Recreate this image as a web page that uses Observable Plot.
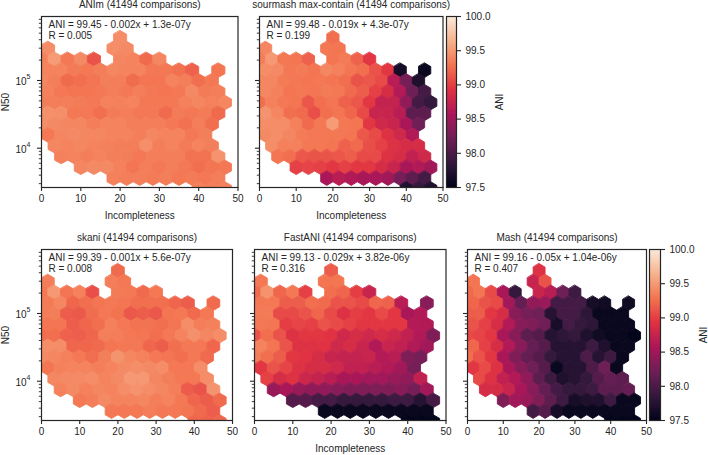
<!DOCTYPE html>
<html><head><meta charset="utf-8">
<script src="https://cdn.jsdelivr.net/npm/d3@7"></script>
<script src="https://cdn.jsdelivr.net/npm/@observablehq/plot@0.6"></script>
<style>
html,body{margin:0;padding:0;background:#fff}
#chart{position:relative;width:708px;height:455px;overflow:hidden}
#chart svg{position:absolute}
</style></head><body><div id="chart"></div>
<script>
// Which hexagon columns are occupied in each row of the hexbin grid (top row first).
const rowCols = [
  [6],[0,5,6],[0,1,2,3,4,6,7,8,9],[0,1,2,3,4,5,6,7,8,9,10,11,13],
  d3.range(0,14),d3.range(0,14),d3.range(0,15),d3.range(0,14),d3.range(0,14),
  d3.range(0,13),d3.range(1,14),d3.range(1,14),d3.range(3,15),d3.range(5,14),d3.range(12,15)
];
const aniANIm = [
  [99.42],
  [99.42,99.42,99.40],
  [99.35,99.50,99.30,99.40,99.10,99.38,99.36,99.22,99.38],
  [99.36,99.36,99.32,99.30,99.33,99.38,99.36,99.36,99.30,99.30,99.26,99.18,99.28],
  [99.38,99.34,99.22,99.25,99.28,99.34,99.33,99.23,99.28,99.28,99.36,99.33,99.25,99.30],
  [99.35,99.30,99.28,99.28,99.30,99.33,99.30,99.33,99.30,99.28,99.30,99.40,99.32,99.33],
  [99.34,99.33,99.33,99.32,99.30,99.35,99.35,99.36,99.30,99.30,99.30,99.35,99.38,99.35,99.38],
  [99.44,99.43,99.30,99.30,99.25,99.32,99.33,99.30,99.30,99.22,99.32,99.30,99.32,99.22],
  [99.42,99.40,99.38,99.38,99.33,99.36,99.36,99.33,99.33,99.33,99.30,99.26,99.33,99.25],
  [99.30,99.38,99.40,99.38,99.38,99.36,99.36,99.33,99.38,99.36,99.36,99.30,99.34],
  [99.38,99.36,99.38,99.36,99.35,99.33,99.33,99.43,99.33,99.36,99.32,99.36,99.34],
  [99.35,99.36,99.33,99.36,99.34,99.34,99.30,99.33,99.33,99.33,99.27,99.27,99.45],
  [99.38,99.40,99.40,99.35,99.28,99.33,99.30,99.33,99.30,99.25,99.28,99.30],
  [99.35,99.33,99.34,99.32,99.34,99.30,99.32,99.30,99.33],
  [99.35,99.33,99.35]
];
const aniSourmash = [
  [99.25],
  [99.38,99.30,99.28],
  [99.33,99.48,99.30,99.28,99.18,99.28,99.32,99.18,98.95],
  [99.42,99.40,99.30,99.32,99.28,99.38,99.35,99.28,99.25,99.10,98.95,97.65,97.55],
  [99.38,99.38,99.32,99.30,99.28,99.30,99.28,99.25,99.10,99.12,99.05,98.65,98.25,97.70],
  [99.38,99.35,99.28,99.30,99.28,99.32,99.30,99.22,99.15,99.00,98.85,98.60,98.20,97.95],
  [99.25,99.35,99.30,99.28,99.12,99.25,99.28,99.18,99.12,98.95,98.72,98.72,98.40,97.95,97.85],
  [99.45,99.38,99.25,99.22,99.08,99.25,99.28,99.20,99.05,98.75,98.75,98.65,98.10,98.10],
  [99.42,99.42,99.42,99.35,99.22,99.30,99.50,99.30,99.28,98.95,98.80,98.75,98.55,98.20],
  [99.40,99.42,99.38,99.32,99.30,99.30,99.30,99.28,99.12,99.05,98.90,98.80,98.60],
  [99.42,99.35,99.35,99.30,99.30,99.28,99.18,99.22,99.08,99.00,98.90,98.85,98.85],
  [99.28,99.25,99.12,99.10,99.10,99.12,99.15,99.05,99.05,98.90,98.85,98.70,98.80],
  [99.00,99.02,99.00,98.95,99.00,98.95,98.95,98.85,98.75,98.55,98.60,98.50],
  [98.55,98.65,98.60,98.55,98.55,98.50,98.25,98.10,97.95],
  [97.70,97.85,97.70]
];
const aniSkani = [
  [99.22],
  [99.33,99.33,99.30],
  [99.30,99.48,99.28,99.35,99.08,99.32,99.30,99.22,99.30],
  [99.32,99.38,99.20,99.25,99.28,99.30,99.28,99.25,99.25,99.25,99.20,99.15,99.22],
  [99.32,99.34,99.15,99.13,99.24,99.30,99.27,99.12,99.15,99.12,99.28,99.30,99.22,99.30],
  [99.28,99.28,99.15,99.20,99.25,99.35,99.30,99.27,99.27,99.25,99.28,99.42,99.33,99.35],
  [99.24,99.25,99.18,99.16,99.20,99.34,99.33,99.30,99.28,99.25,99.30,99.36,99.44,99.38,99.42],
  [99.42,99.42,99.20,99.20,99.22,99.28,99.30,99.30,99.20,99.15,99.25,99.30,99.30,99.20],
  [99.40,99.38,99.35,99.30,99.24,99.34,99.46,99.38,99.35,99.30,99.28,99.25,99.30,99.22],
  [99.28,99.35,99.36,99.36,99.33,99.36,99.40,99.42,99.40,99.42,99.30,99.30,99.42],
  [99.38,99.40,99.40,99.42,99.36,99.40,99.48,99.48,99.38,99.34,99.30,99.30,99.42],
  [99.35,99.40,99.35,99.38,99.36,99.42,99.45,99.42,99.38,99.33,99.14,99.10,99.46],
  [99.30,99.33,99.40,99.36,99.36,99.38,99.33,99.36,99.30,99.20,99.15,99.22],
  [99.30,99.30,99.30,99.33,99.30,99.30,99.28,99.22,99.15],
  [99.20,99.18,99.20]
];
const aniFastANI = [
  [99.15],
  [99.30,99.28,99.28],
  [99.22,99.45,99.20,99.30,99.00,99.25,99.20,98.98,98.75],
  [99.30,99.30,99.15,99.15,99.25,99.22,99.10,99.10,99.05,99.20,99.18,98.65,98.35],
  [99.32,99.32,99.05,99.05,99.10,99.20,99.05,98.90,98.98,98.95,99.05,98.95,98.55,98.60],
  [99.30,99.28,98.98,99.02,99.00,99.10,99.05,99.00,98.95,98.95,98.95,98.95,98.62,98.60],
  [99.10,99.25,99.10,98.90,98.95,98.95,98.92,98.80,98.85,98.80,98.85,98.80,98.70,98.60,98.30],
  [99.36,99.28,99.10,98.90,98.90,98.92,98.80,98.85,98.75,98.60,98.75,98.70,98.60,98.50],
  [99.34,99.25,99.15,98.95,98.92,98.85,98.75,98.72,98.72,98.75,98.62,98.65,98.30,98.25],
  [98.95,99.10,99.02,98.90,98.85,98.85,98.80,98.70,98.70,98.65,98.60,98.50,98.25],
  [99.00,98.85,98.90,98.78,98.72,98.65,98.55,98.55,98.50,98.50,98.45,98.40,98.70],
  [98.45,98.55,98.45,98.40,98.40,98.35,98.30,98.30,98.30,98.30,98.35,98.25,98.50],
  [98.05,98.05,97.95,97.95,97.85,97.85,97.85,97.85,97.90,97.90,97.75,97.95],
  [97.55,97.55,97.55,97.55,97.55,97.55,97.55,97.55,97.55],
  [97.50,97.50,97.50]
];
const aniMash = [
  [98.90],
  [99.28,98.75,99.10],
  [99.22,99.28,99.05,98.55,97.85,98.75,98.65,98.20,97.90],
  [99.20,99.10,99.05,98.50,98.15,98.40,98.45,97.95,97.95,97.95,97.65,97.60,97.60],
  [99.15,99.15,98.95,98.85,98.35,98.25,98.20,97.75,97.95,97.95,97.80,97.55,97.55,97.55],
  [99.10,99.00,98.85,98.60,98.35,98.30,98.20,97.65,97.95,97.85,97.80,97.55,97.55,97.55],
  [99.05,99.02,98.95,98.55,98.35,98.10,98.05,97.75,97.80,97.85,97.70,97.60,97.55,97.55,97.50],
  [99.20,99.00,98.85,98.60,98.35,98.15,98.05,97.75,97.75,97.75,97.90,97.70,97.55,97.55],
  [99.25,99.10,98.95,98.55,98.30,98.15,98.05,97.85,97.75,97.75,98.00,97.75,97.90,97.55],
  [98.95,99.05,98.90,98.55,98.35,98.20,98.05,97.55,97.75,97.75,98.00,98.20,97.55],
  [99.05,98.90,98.70,98.60,98.40,98.10,97.90,97.70,97.75,97.85,98.05,98.15,98.10],
  [98.85,98.85,98.75,98.55,98.35,98.15,97.95,97.85,97.85,97.90,98.10,98.10,98.15],
  [98.30,98.50,98.45,98.30,98.10,97.90,97.65,97.70,97.70,97.90,97.55,97.55],
  [97.95,98.05,97.65,97.55,97.55,97.55,97.55,97.55,97.55],
  [97.50,97.50,97.50]
];
const titles = ["ANIm (41494 comparisons)","sourmash max-contain (41494 comparisons)","skani (41494 comparisons)","FastANI (41494 comparisons)","Mash (41494 comparisons)"];
const fits = ["ANI = 99.45 - 0.002x + 1.3e-07y","ANI = 99.48 - 0.019x + 4.3e-07y","ANI = 99.39 - 0.001x + 5.6e-07y","ANI = 99.13 - 0.029x + 3.82e-06y","ANI = 99.16 - 0.05x + 1.04e-06y"];
const corrs = ["R = 0.005","R = 0.199","R = 0.008","R = 0.316","R = 0.407"];
const xTicks = [0,10,20,30,40,50];
const yMajor = [1e4,1e5];
const yExponents = ["4","5"];
const yMinor = [3e3,4e3,5e3,6e3,7e3,8e3,9e3,2e4,3e4,4e4,5e4,6e4,7e4,8e4,9e4,2e5,3e5,4e5,5e5,6e5,7e5,8e5];
const cbarTicks = [97.5,98,98.5,99,99.5,100];
const aniDomain = [97.5,100];
const rocket = ["#03051a","#35193e","#701f57","#ad1759","#e13342","#f37651","#f6b48f","#faebdd"];
const yDomain = [2630,881000];
const colStep = 10/3, rowStep = 0.1595, topLog = 5.631;
const ink = "#262626";

const colorScale = {
  type:"linear", clamp:true,
  domain: rocket.map((_,i)=>aniDomain[0]+(aniDomain[1]-aniDomain[0])*i/(rocket.length-1)),
  range: rocket
};
const font = {fontFamily:"'Liberation Sans',Arial,sans-serif",fontSize:"10px",color:ink,background:"transparent",overflow:"visible"};

function hexVertices(values){
  const out=[]; const h=rowStep/0.75; let id=0;
  values.forEach((row,r)=>{
    row.forEach((v,i)=>{
      const cx=rowCols[r][i]*colStep+(r%2?colStep/2:0), cy=topLog-r*rowStep;
      [[0,h/2],[colStep/2,h/4],[colStep/2,-h/4],[0,-h/2],[-colStep/2,-h/4],[-colStep/2,h/4]].forEach(([a,b])=>{
        out.push({id,x:cx+a,y:Math.pow(10,cy+b),v});
      });
      id++;
    });
  });
  return out;
}

const root=document.getElementById("chart");
function place(svg,left,top){svg.style.left=left+"px";svg.style.top=top+"px";root.appendChild(svg);}

function panel(i,values,box,opts){
  const [x0,x1,y0,y1]=box, ml=40, mr=10, mt=16, mb=36;
  const svg=Plot.plot({
    width:x1-x0+ml+mr, height:y1-y0+mt+mb,
    marginLeft:ml,marginRight:mr,marginTop:mt,marginBottom:mb,
    style:font,
    x:{domain:[0,50]},
    y:{type:"log",domain:yDomain},
    color:colorScale,
    marks:[
      Plot.line(hexVertices(values),{x:"x",y:"y",z:"id",fill:"v",stroke:"v",strokeWidth:0.9,curve:"linear-closed",clip:true}),
      Plot.frame({stroke:ink,strokeWidth:1.2}),
      Plot.axisX({ticks:xTicks,tickSize:4,tickPadding:3,tickFormat:d=>d,stroke:ink,strokeWidth:1.1,fontSize:10,
        label:opts.xLabel?"Incompleteness":null,labelAnchor:"center",labelArrow:"none",labelOffset:31}),
      Plot.axisY({ticks:yMajor,tickSize:4,stroke:ink,strokeWidth:1.1,tickFormat:()=>"",
        label:opts.yLabel?"N50":null,labelAnchor:"center",labelArrow:"none",labelOffset:40}),
      Plot.axisY({ticks:yMinor,tickSize:2.2,stroke:ink,strokeWidth:0.9,tickFormat:()=>"",label:null}),
      opts.yLabel?Plot.text(yMajor,{y:d=>d,text:()=>"10",frameAnchor:"left",textAnchor:"end",dx:-15,dy:1.5,fontSize:10}):null,
      opts.yLabel?Plot.text(yMajor,{y:d=>d,text:(d,i)=>yExponents[i],frameAnchor:"left",textAnchor:"start",dx:-15,dy:-3.5,fontSize:7}):null,
      Plot.text([titles[i]],{text:d=>d,frameAnchor:"top",dy:-16,fontSize:10}),
      Plot.text([fits[i]],{text:d=>d,frameAnchor:"top-left",dx:7,dy:4,fontSize:10}),
      Plot.text([corrs[i]],{text:d=>d,frameAnchor:"top-left",dx:7,dy:15,fontSize:10})
    ]
  });
  place(svg,x0-ml,y0-mt);
}

function colorbar(box,labelOffset){
  const [x0,x1,y0,y1]=box, mr=60, mt=10, mb=10;
  const steps=d3.range(0,250).map(k=>aniDomain[0]+k*0.01);
  const svg=Plot.plot({
    width:x1-x0+mr, height:y1-y0+mt+mb,
    marginLeft:0,marginRight:mr,marginTop:mt,marginBottom:mb,
    style:font,
    x:{domain:[0,1],axis:null},
    y:{domain:aniDomain},
    color:colorScale,
    marks:[
      Plot.rect(steps,{x1:0,x2:1,y1:d=>d,y2:d=>Math.min(d+0.03,aniDomain[1]),fill:d=>d+0.005}),
      Plot.frame({stroke:ink,strokeWidth:1.2}),
      Plot.axisY({anchor:"right",ticks:cbarTicks,tickSize:4,tickPadding:5,stroke:ink,strokeWidth:1.1,fontSize:10,
        tickFormat:d=>d.toFixed(1),label:"ANI",labelAnchor:"center",labelArrow:"none",labelOffset}),
    ]
  });
  place(svg,x0,y0-mt);
}

panel(0,aniANIm,[41,237.5,16,187],{xLabel:true,yLabel:true});
panel(1,aniSourmash,[259,442.5,16,187],{xLabel:true});
panel(2,aniSkani,[41,232,249,420],{yLabel:true});
panel(3,aniFastANI,[253.5,445,249,420],{xLabel:true});
panel(4,aniMash,[466.7,645.7,249,420],{});
colorbar([446,456,16,187],46);
colorbar([649,660,249,420],46);
</script></body></html>
